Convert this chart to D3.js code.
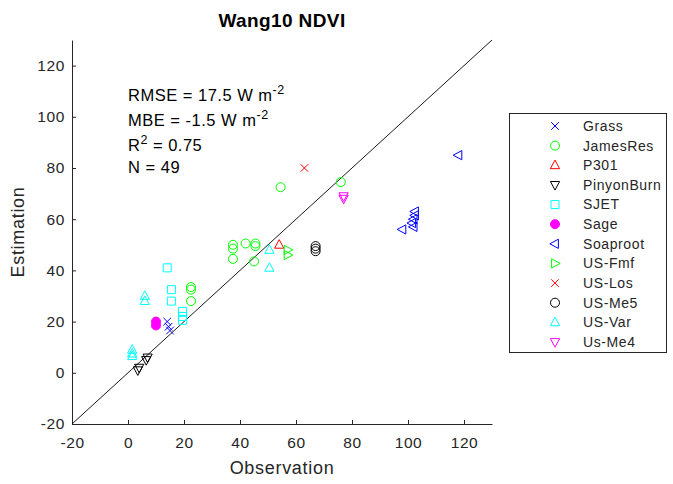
<!DOCTYPE html>
<html>
<head>
<meta charset="utf-8">
<script src="https://cdn.jsdelivr.net/npm/d3@7"></script>
<style>
  body { margin: 0; background: #fff; }
  svg { display: block; font-family: "Liberation Sans", Arial, Helvetica, sans-serif; }
</style>
</head>
<body>
<svg id="chart" width="673" height="484"></svg>
<script>
// Site names, in legend order
const sites = ["Grass", "JamesRes", "P301", "PinyonBurn", "SJET", "Sage", "Soaproot",
               "US-Fmf", "US-Los", "US-Me5", "US-Var", "Us-Me4"];

// Observed vs estimated values per site: [observation, estimation]
const grass      = [[14, 20], [14.5, 18], [15, 16.5]];
const jamesRes   = [[22.5, 33.5], [22.5, 32.5], [22.5, 28], [37.5, 50], [37.5, 48.5], [37.5, 44.5],
                    [42, 50.5], [45.5, 50.5], [45.5, 49.5], [45, 43.5], [54.5, 72.5], [76, 74.5]];
const p301       = [[54, 50]];
const pinyonBurn = [[3.5, 1], [4, 2], [6.5, 5], [7, 6]];
const sjet       = [[14, 41], [15.5, 32.5], [15.5, 28], [19.5, 24], [19.5, 22], [19.5, 20.5]];
const sage       = [[10, 20], [10, 18.5]];
const soaproot   = [[118, 85], [98, 56], [102.5, 63], [102.5, 61.5], [102, 60], [101.5, 58.5], [102, 57]];
const usFmf      = [[57, 48], [57, 46]];
const usLos      = [[63, 80]];
const usMe5      = [[67, 49.5], [67, 48.5], [67, 47.5]];
const usVar      = [[6, 30], [6, 28], [1.5, 9], [1.5, 7.5], [1.5, 6.5], [50.5, 48], [50.5, 41]];
const usMe4      = [[77, 69], [77, 68]];

const seriesValues = [grass, jamesRes, p301, pinyonBurn, sjet, sage, soaproot,
                      usFmf, usLos, usMe5, usVar, usMe4];

// Marker shape and colour for each site
const markers = ["x", "o", "^", "v", "s", "o", "<", ">", "x", "o", "^", "v"];
const colors  = ["#0000ff", "#00ff00", "#ff0000", "#000000", "#00ffff", "#ff00ff",
                 "#0000ff", "#00ff00", "#ff0000", "#000000", "#00ffff", "#ff00ff"];
const filled  = [false, false, false, false, false, true, false, false, false, false, false, false];

const xTicks = [-20, 0, 20, 40, 60, 80, 100, 120];
const yTicks = [-20, 0, 20, 40, 60, 80, 100, 120];
const xDomain = [-20, 130];
const yDomain = [-20, 130];

const statLines = [
  { main: "RMSE = 17.5 W m", sup: "-2", after: "" },
  { main: "MBE = -1.5 W m",  sup: "-2", after: "" },
  { main: "R",               sup: "2",  after: " = 0.75" },
  { main: "N = 49",          sup: "",   after: "" }
];

const svg = d3.select("#chart");
const plot = { left: 72, right: 492, top: 40, bottom: 424 };

const x = d3.scaleLinear().domain(xDomain).range([plot.left, plot.right]);
const y = d3.scaleLinear().domain(yDomain).range([plot.bottom, plot.top]);

const axisColor = "#262626";
const plainNumber = d => String(d);

// Axes: ticks point inward, no box
const gx = svg.append("g")
  .attr("transform", `translate(0,${plot.bottom})`)
  .call(d3.axisBottom(x).tickValues(xTicks).tickFormat(plainNumber)
    .tickSizeInner(-4).tickSizeOuter(0).tickPadding(13));
const gy = svg.append("g")
  .attr("transform", `translate(${plot.left},0)`)
  .call(d3.axisLeft(y).tickValues(yTicks).tickFormat(plainNumber)
    .tickSizeInner(-4).tickSizeOuter(0).tickPadding(7));

[gx, gy].forEach(g => {
  g.select(".domain").attr("stroke", axisColor).attr("stroke-width", 1);
  g.selectAll(".tick line").attr("stroke", axisColor);
  g.selectAll(".tick text").attr("fill", axisColor).attr("font-size", 15.5)
    .attr("letter-spacing", 0.6)
    .attr("font-family", "'Liberation Sans', Arial, sans-serif");
});

// 1:1 reference line
svg.append("line")
  .attr("x1", x(-20)).attr("y1", y(-20))
  .attr("x2", x(130)).attr("y2", y(130))
  .attr("stroke", "#000").attr("stroke-width", 0.9);

// Marker path generator
function markerPath(m) {
  switch (m) {
    case "^": return "M0,-5.2L4.6,3.4L-4.6,3.4Z";
    case "v": return "M0,5.2L4.6,-3.4L-4.6,-3.4Z";
    case "<": return "M-5.2,0L3.4,-4.6L3.4,4.6Z";
    case ">": return "M5.2,0L-3.4,-4.6L-3.4,4.6Z";
    case "s": return "M-4,-4H4V4H-4Z";
    case "x": return "M-3.8,-3.8L3.8,3.8M-3.8,3.8L3.8,-3.8";
    default:  return "M4.5,0A4.5,4.5 0 1,1 -4.5,0A4.5,4.5 0 1,1 4.5,0Z";
  }
}

function drawMarker(sel, i) {
  sel.append("path")
    .attr("d", markerPath(markers[i]))
    .attr("fill", filled[i] ? colors[i] : "none")
    .attr("stroke", colors[i])
    .attr("stroke-width", 1);
}

// Scatter points
const pointsLayer = svg.append("g");
seriesValues.forEach((vals, i) => {
  pointsLayer.append("g").selectAll("g")
    .data(vals)
    .join("g")
    .attr("transform", d => `translate(${x(d[0])},${y(d[1])})`)
    .each(function () { drawMarker(d3.select(this), i); });
});

// Title
svg.append("text")
  .attr("x", (plot.left + plot.right) / 2).attr("y", 27)
  .attr("text-anchor", "middle")
  .attr("font-weight", "bold").attr("font-size", 19)
  .attr("letter-spacing", 0.4)
  .attr("fill", "#000")
  .text("Wang10 NDVI");

// Axis labels
svg.append("text")
  .attr("x", (plot.left + plot.right) / 2).attr("y", 474)
  .attr("text-anchor", "middle").attr("font-size", 18)
  .attr("letter-spacing", 0.7)
  .attr("fill", axisColor)
  .text("Observation");
svg.append("text")
  .attr("transform", `translate(24,${(plot.top + plot.bottom) / 2}) rotate(-90)`)
  .attr("text-anchor", "middle").attr("font-size", 18)
  .attr("letter-spacing", 0.7)
  .attr("fill", axisColor)
  .text("Estimation");

// Statistics block
const statBase = [101, 126, 151, 173];
statLines.forEach((s, i) => {
  const t = svg.append("text")
    .attr("x", 128).attr("y", statBase[i])
    .attr("font-size", 16.5).attr("letter-spacing", 0.5).attr("fill", "#000");
  t.append("tspan").text(s.main);
  if (s.sup) {
    t.append("tspan").attr("dy", -7).attr("font-size", 12.5).text(s.sup);
  }
  if (s.after) {
    t.append("tspan").attr("dy", 7).text(s.after);
  }
});

// Legend
const legend = svg.append("g");
legend.append("rect")
  .attr("x", 509.5).attr("y", 113.5).attr("width", 157).attr("height", 239)
  .attr("fill", "#fff").attr("stroke", axisColor).attr("stroke-width", 1);

const legendRow = d3.scalePoint().domain(sites).range([126, 342]);
sites.forEach((name, i) => {
  const row = legend.append("g").attr("transform", `translate(0,${legendRow(name)})`);
  drawMarker(row.append("g").attr("transform", "translate(555,0)"), i);
  row.append("text")
    .attr("x", 583).attr("dy", "0.35em")
    .attr("font-size", 14).attr("letter-spacing", 0.6).attr("fill", axisColor)
    .text(name);
});
</script>
</body>
</html>
